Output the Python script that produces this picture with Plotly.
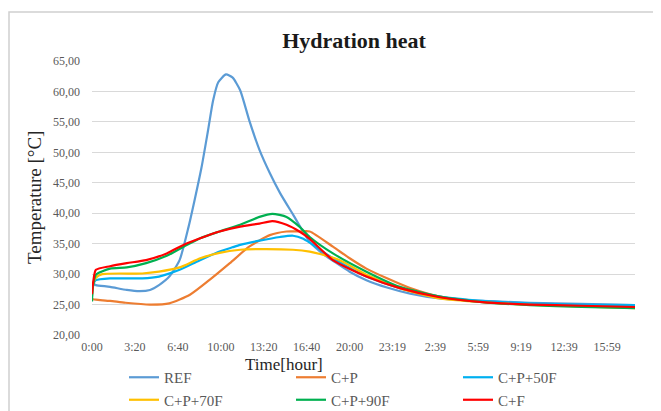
import plotly.graph_objects as go

# time in hours from start, temperature in degC
ref_t = [0, 0.1, 0.3, 1.4, 2.7, 3.7, 4.5, 5.2, 6.0, 6.8, 7.5, 8.0, 8.5, 9.0, 9.4, 9.8,
         10.4, 10.9, 11.5, 12.2, 13.0, 13.8, 14.6, 15.6, 16.9, 18.0, 18.7, 20.0, 21.3,
         22.9, 24.7, 27.0, 30.3, 34.0, 38.0, 42.15]
ref_v = [27.8, 28.4, 28.2, 27.9, 27.4, 27.2, 27.4, 28.2, 29.6, 32.3, 37.8, 42.5, 47.5,
         53.5, 58.5, 61.5, 62.8, 62.3, 60.2, 55.3, 50.4, 46.6, 43.3, 39.8, 35.3, 33.2,
         32.2, 30.4, 29.0, 27.8, 26.8, 26.0, 25.6, 25.3, 25.1, 24.9]

cp_t = [0, 0.3, 1.4, 2.6, 4.5, 6.0, 7.6, 9.1, 10.7, 12.2, 13.8, 15.1, 16.1, 16.9, 18.7,
        20.0, 21.3, 22.9, 24.7, 27.0, 30.3, 34.0, 38.0, 42.15]
cp_v = [25.9, 25.8, 25.6, 25.3, 25.0, 25.2, 26.6, 29.0, 31.8, 34.5, 36.4, 37.0, 37.0,
        37.0, 34.5, 32.6, 30.9, 29.3, 27.7, 26.3, 25.5, 25.1, 24.9, 24.8]

cp50_t = [0, 0.1, 0.3, 1.4, 3.9, 5.2, 6.8, 8.3, 9.9, 10.9, 11.5, 13.0, 14.6, 15.6, 16.4,
          18.7, 21.3, 23.9, 27.0, 30.3, 34.0, 38.0, 42.15]
cp50_v = [26.5, 28.3, 29.0, 29.3, 29.3, 29.6, 30.7, 32.2, 33.7, 34.4, 34.8, 35.5, 36.1,
          36.3, 35.8, 32.6, 29.6, 27.7, 26.3, 25.6, 25.2, 25.0, 24.9]

cp70_t = [0, 0.1, 0.3, 0.8, 3.9, 5.2, 6.8, 8.4, 9.9, 11.5, 13.0, 15.6, 16.9, 17.7, 19.2,
          21.3, 23.9, 27.0, 31.7, 36.0, 42.15]
cp70_v = [26.3, 28.5, 29.4, 30.0, 30.1, 30.4, 31.1, 32.6, 33.5, 34.0, 34.1, 34.0, 33.7,
          33.3, 32.3, 29.9, 27.7, 26.0, 25.2, 24.8, 24.4]

cp90_t = [0, 0.05, 0.3, 1.4, 2.7, 4.2, 5.8, 7.1, 8.4, 9.9, 11.5, 13.0, 14.0, 15.1, 16.1,
          16.9, 18.7, 21.3, 23.9, 27.0, 30.3, 34.0, 38.0, 42.15]
cp90_v = [25.5, 27.5, 29.9, 30.9, 31.1, 31.8, 33.0, 34.5, 35.9, 37.0, 38.1, 39.4, 39.9,
          39.4, 37.8, 36.1, 33.4, 30.4, 27.9, 26.3, 25.4, 24.9, 24.6, 24.4]

cf_t = [0, 0.1, 0.3, 1.4, 2.7, 4.2, 5.8, 7.1, 8.4, 9.9, 11.5, 13.0, 14.0, 15.1, 16.1,
        16.9, 18.7, 21.3, 23.9, 27.0, 30.3, 34.0, 38.0, 42.15]
cf_v = [26.7, 28.8, 30.7, 31.3, 31.8, 32.3, 33.4, 34.8, 35.9, 37.0, 37.8, 38.3, 38.7,
        38.1, 37.0, 35.8, 32.3, 29.6, 27.7, 26.2, 25.4, 25.0, 24.8, 24.6]

series = [
    ("REF", ref_t, ref_v, "#5B9BD5"),
    ("C+P", cp_t, cp_v, "#ED7D31"),
    ("C+P+50F", cp50_t, cp50_v, "#00B0F0"),
    ("C+P+70F", cp70_t, cp70_v, "#FFC000"),
    ("C+P+90F", cp90_t, cp90_v, "#00B050"),
    ("C+F", cf_t, cf_v, "#FF0000"),
]

tick_hours = [0, 10/3, 20/3, 10, 40/3, 50/3, 20, 23 + 19/60, 26 + 39/60, 29 + 59/60,
              33 + 19/60, 36 + 39/60, 39 + 59/60]
tick_text = ["0:00", "3:20", "6:40", "10:00", "13:20", "16:40", "20:00", "23:19",
             "2:39", "5:59", "9:19", "12:39", "15:59"]

FONT = "Liberation Serif"
GREY = "#595959"

fig = go.Figure()
for name, t, v, color in series:
    fig.add_trace(go.Scatter(
        x=t, y=v, name=name, mode="lines",
        line=dict(color=color, width=2.2, shape="spline", smoothing=0.6),
    ))

# the page puts the figure 8px in from the top-left corner, so work in
# screen pixels and subtract that offset
OFF = 8
W, H = 661 - OFF, 411 - OFF
L, R, T, B = 92 - OFF, 26, 61 - OFF, 76
pw, ph = W - L - R, H - T - B


def px(x):
    return (x - OFF - L) / pw


def py(y):
    return (H - B - (y - OFF)) / ph


fig.update_layout(
    width=W, height=H,
    margin=dict(l=L, r=R, t=T, b=B),
    paper_bgcolor="white", plot_bgcolor="white",
    separators=", ",
    font=dict(family=FONT, color=GREY, size=12),
    title=dict(text="<b>Hydration heat</b>", x=(354 - OFF) / W, xref="container",
               xanchor="center", y=1 - (40 - OFF) / H, yref="container", yanchor="middle",
               font=dict(family=FONT, size=22, color="#1a1a1a")),
    xaxis=dict(range=[0, 42.15], tickvals=tick_hours, ticktext=tick_text,
               showgrid=False, zeroline=False, showline=False, ticks="",
               automargin=False, ticklabelstandoff=3, tickfont=dict(size=12, color=GREY)),
    yaxis=dict(range=[20, 65], dtick=5, tickformat=".2f", showgrid=True,
               gridcolor="#d9d9d9", gridwidth=1.3, zeroline=False, showline=False,
               ticks="", automargin=False, ticklabelstandoff=11,
               tickfont=dict(size=12, color=GREY)),
    showlegend=True,
    legend=dict(orientation="h", xref="container", yref="container",
                x=(124 - OFF) / W, xanchor="left",
                y=1 - (361 - OFF) / H, yanchor="top",
                entrywidth=122, entrywidthmode="pixels", tracegroupgap=0,
                font=dict(size=15, color=GREY), bgcolor="rgba(0,0,0,0)"),
)

# axis titles
fig.add_annotation(text="Temperature [°C]", xref="paper", yref="paper",
                   x=px(34), y=0.5, textangle=-90, showarrow=False,
                   xanchor="center", yanchor="middle",
                   font=dict(family=FONT, size=19, color="#262626"))
fig.add_annotation(text="Time[hour]", xref="paper", yref="paper",
                   x=px(284), y=py(364), showarrow=False,
                   xanchor="center", yanchor="middle",
                   font=dict(family=FONT, size=17, color="#262626"))

# outer chart border (Excel chart area)
fig.add_shape(type="rect", xref="paper", yref="paper",
              x0=px(9), x1=px(700), y0=py(440), y1=py(12),
              line=dict(color="#d0d0d0", width=1.5), fillcolor="rgba(0,0,0,0)", layer="below")

fig.write_html("out.html")
